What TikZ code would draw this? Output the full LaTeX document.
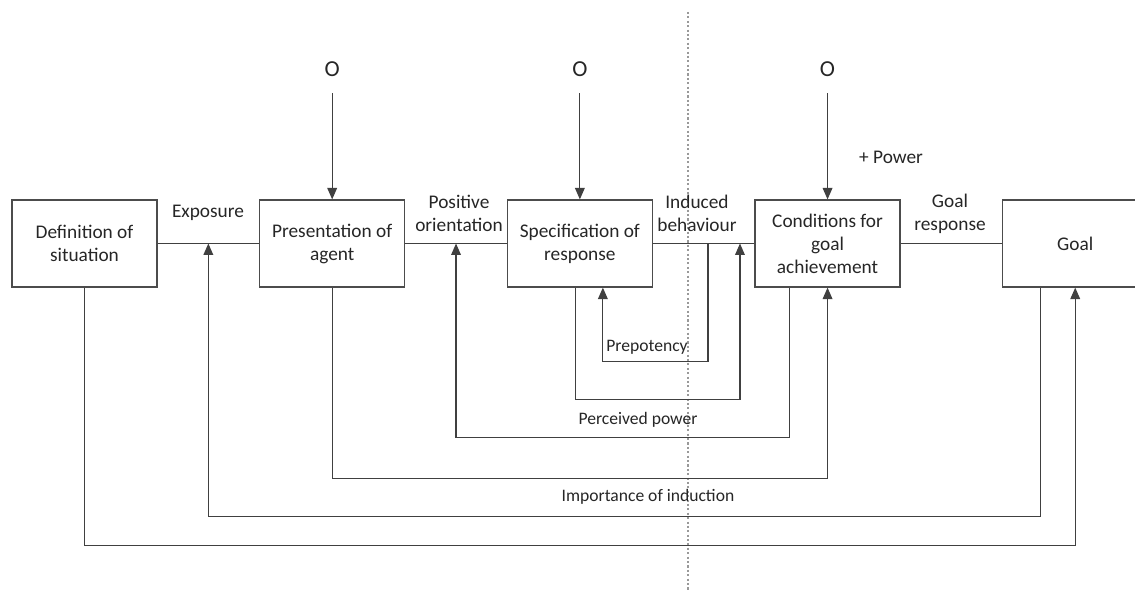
\documentclass[tikz,border=0pt]{standalone}
\usepackage{fontspec}
\setmainfont{Carlito}
\usetikzlibrary{arrows.meta,positioning,calc}

\begin{document}
\begin{tikzpicture}[
	x=0.02cm, y=-0.02cm,
	node distance=2.03cm,
	every node/.style = {font=\fontsize{11}{13.1}\selectfont, text=black!85},
	box/.style = {draw=black!70, line width=0.7pt, minimum width=2.9cm, minimum height=1.74cm, align=center, inner sep=2pt},
	lbl/.style = {align=center, inner sep=0pt},
	small/.style = {lbl, font=\fontsize{10}{12}\selectfont},
	olbl/.style = {lbl, font=\fontsize{13}{15}\selectfont},
	line/.style = {draw=black!75, line width=0.7pt},
	arr/.style = {line, -{Triangle[length=6.5pt,width=5.5pt]}}
	]
	\useasboundingbox (0,0) rectangle (1135,591);

	% dotted separator
	\draw[black!40, line width=0.9pt, dash pattern=on 1.2pt off 1.3pt] (688,12) -- (688,590);

	\node[box] (sit) at (84.5,243.5) {Definition of\\situation};
	\node[box, right=of sit] (agent) {Presentation of\\agent};
	\node[box, right=of agent] (spec) {Specification of\\response};
	\node[box, right=of spec] (cond) {Conditions for\\goal\\achievement};
	\node[box, right=of cond] (goal) {Goal};

	\node[olbl] (o1) at ($(agent.north)+(0,-130)$) {O};
	\node[olbl] (o2) at ($(spec.north)+(0,-130)$) {O};
	\node[olbl] (o3) at ($(cond.north)+(0,-130)$) {O};

	\node[lbl] (expo) at (208,213) {Exposure};
	\node[lbl] (posor) at (459,213) {Positive\\orientation};
	\node[lbl] (indb) at (697,213) {Induced\\behaviour};
	\node[lbl] (gresp) at (950,214) {Goal\\response};
	\node[lbl] (power) at (891,157) {+ Power};
	\node[small] (prep) at (647,347) {Prepotency};
	\node[small] (perc) at (638,420) {Perceived power};
	\node[small] (impo) at (648,497) {Importance of induction};

	\coordinate (expPt) at ($(sit.east)!0.5!(agent.west)$);
	\coordinate (posPt) at ($(agent.east)!0.5!(spec.west)$);
	\coordinate (indA) at ($(spec.east)+(55,0)$);
	\coordinate (indB) at ($(spec.east)+(87,0)$);

	\draw[line] (sit) -- (agent);
	\draw[line] (agent) -- (spec);
	\draw[line] (spec) -- (cond);
	\draw[line] (cond) -- (goal);

	\draw[arr, shorten <=9pt] (o1) -- (agent);
	\draw[arr, shorten <=9pt] (o2) -- (spec);
	\draw[arr, shorten <=9pt] (o3) -- (cond);

	% feedback loops
	\draw[arr] (indA) -- ++(0,118) -| ($(spec.south)+(23,0)$);
	\draw[arr] ($(spec.south)+(-4,0)$) -- ++(0,112) -| (indB);
	\draw[arr] ($(cond.south)+(-38,0)$) -- ++(0,150) -| (posPt);
	\draw[arr] (agent.south) -- ++(0,191) -| (cond.south);
	\draw[arr] ($(goal.south)+(-35,0)$) -- ++(0,229) -| (expPt);
	\draw[arr] (sit.south) -- ++(0,258) -| (goal.south);
\end{tikzpicture}
\end{document}
